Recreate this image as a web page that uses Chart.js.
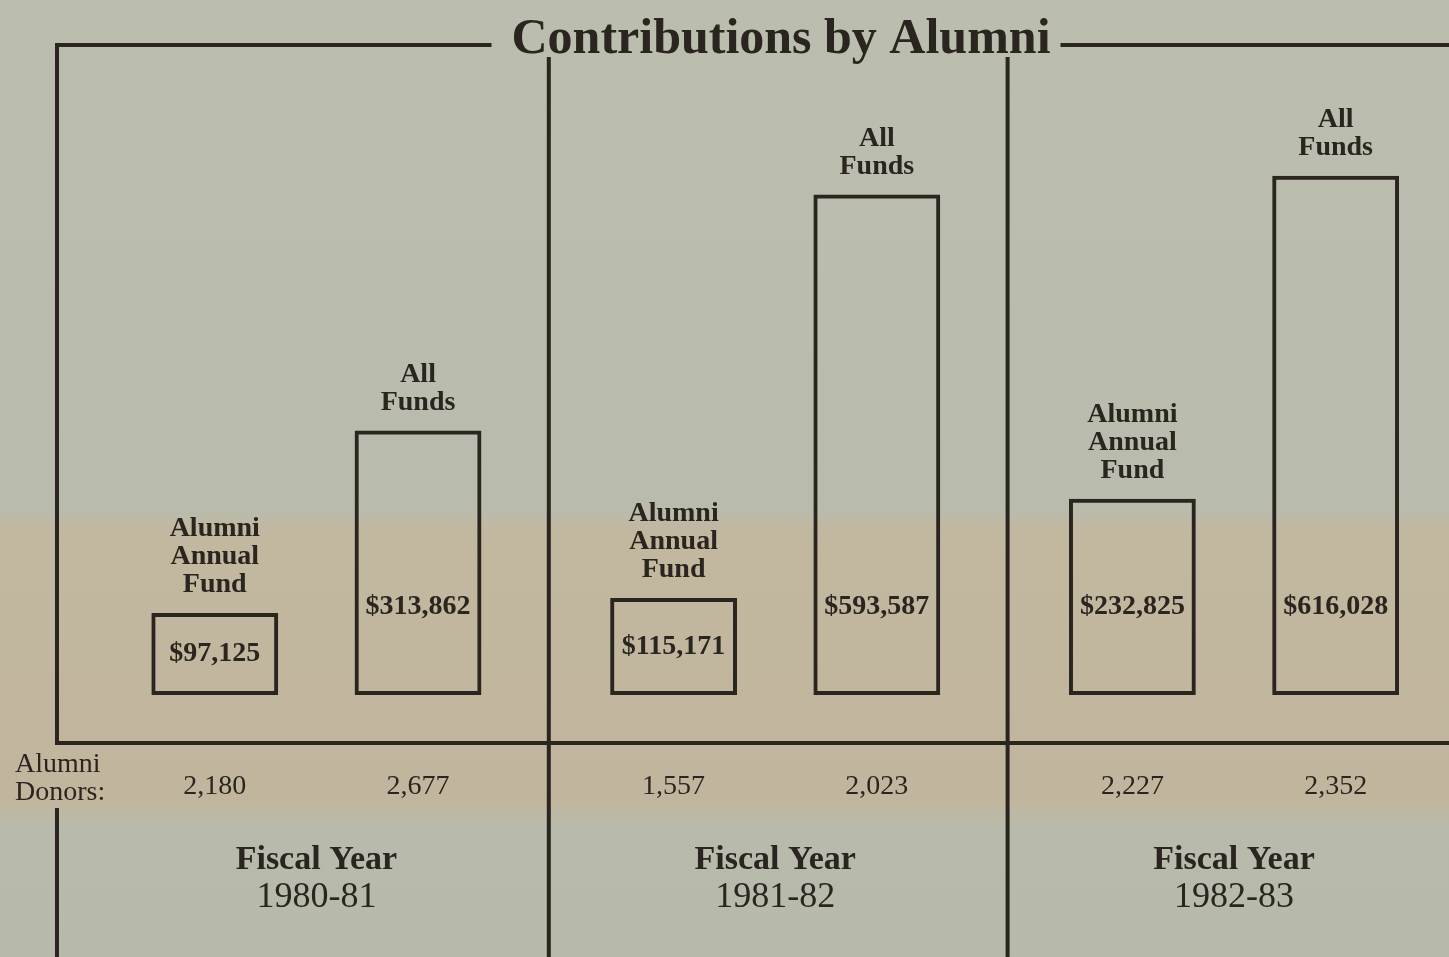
<!DOCTYPE html>
<html>
<head>
<meta charset="utf-8">
<script src="https://cdn.jsdelivr.net/npm/chart.js@4.4.1/dist/chart.umd.min.js"></script>
<style>
html,body{margin:0;padding:0;overflow:hidden;background:#b9bcad;}
canvas{display:block;}
</style>
</head>
<body>
<canvas id="c" width="1475" height="957"></canvas>
<script>
// ---- data ----
const fiscalYears = ['1980-81', '1981-82', '1982-83'];
const seriesNames = ['Alumni Annual Fund', 'All Funds'];
const barLabels = [['Alumni', 'Annual', 'Fund'], ['All', 'Funds']];
const alumniAnnualFund = [97125, 115171, 232825];
const allFunds = [313862, 593587, 616028];
const donorsAnnualFund = [2180, 1557, 2227];
const donorsAllFunds = [2677, 2023, 2352];
const donorRowLabel = ['Alumni', 'Donors:'];
const axisWord = 'Fiscal Year';
const titleText = 'Contributions by Alumni';

const INK = '#2a251f';
const SERIF = '"Liberation Serif", "Times New Roman", serif';
const donorSeries = [donorsAnnualFund, donorsAllFunds];

const fmtMoney = v => '$' + v.toLocaleString('en-US');
const fmtInt = v => v.toLocaleString('en-US');

const decor = {
  id: 'decor',
  beforeDraw(chart) {
    const { ctx, width, height } = chart;
    const g = ctx.createLinearGradient(0, 0, 0, height);
    g.addColorStop(0, '#bbbeaf');
    g.addColorStop(505 / height, '#b9bcad');
    g.addColorStop(535 / height, '#c2b79f');
    g.addColorStop(800 / height, '#c1b69d');
    g.addColorStop(830 / height, '#b8bbac');
    g.addColorStop(1, '#b7baab');
    ctx.save();
    ctx.fillStyle = g;
    ctx.fillRect(0, 0, width, height);
    ctx.restore();
  },
  afterDatasetsDraw(chart) {
    const { ctx, chartArea: a, scales: { x }, width, height } = chart;
    const frameLeft = a.left - 30;
    const topY = 45;
    const baseY = a.bottom + 48;
    const half = (a.right - a.left) / fiscalYears.length / 2;

    ctx.save();
    ctx.strokeStyle = INK;
    ctx.lineWidth = 4;
    ctx.lineCap = 'butt';

    // title gap in top rule
    const tb = chart.titleBlock;
    const tcx = (tb.left + tb.right) / 2;
    ctx.font = 'bold 50px ' + SERIF;
    const tw = ctx.measureText(titleText).width;

    ctx.beginPath();
    ctx.moveTo(frameLeft - 2, topY);
    ctx.lineTo(tcx - tw / 2 - 20, topY);
    ctx.moveTo(tcx + tw / 2 + 10, topY);
    ctx.lineTo(width, topY);
    // left frame (broken by the donor label)
    ctx.moveTo(frameLeft, topY - 2);
    ctx.lineTo(frameLeft, baseY + 2);
    ctx.moveTo(frameLeft, baseY + 65);
    ctx.lineTo(frameLeft, height);
    // dividers between fiscal years (start just under the title)
    for (let i = 0; i < fiscalYears.length - 1; i++) {
      const dx = x.getPixelForValue(i) + half + 3;
      ctx.moveTo(dx, topY + 12);
      ctx.lineTo(dx, height);
    }
    // base rule
    ctx.moveTo(frameLeft - 2, baseY);
    ctx.lineTo(width, baseY);
    ctx.stroke();

    ctx.fillStyle = INK;
    ctx.textAlign = 'center';
    ctx.textBaseline = 'middle';

    chart.data.datasets.forEach((ds, d) => {
      const meta = chart.getDatasetMeta(d);
      meta.data.forEach((el, i) => {
        // series name above bar
        ctx.font = 'bold 28px ' + SERIF;
        const lines = barLabels[d];
        lines.forEach((ln, k) => {
          const yy = el.y - 28 - (lines.length - 1 - k) * 28;
          ctx.fillText(ln, el.x, yy);
        });
        // value inside bar
        ctx.font = 'bold 28px ' + SERIF;
        const h = el.base - el.y;
        const vy = h > 130 ? el.base - 88 : (el.y + el.base) / 2;
        ctx.fillText(fmtMoney(ds.data[i]), el.x, vy);
        // donors row
        ctx.font = '28px ' + SERIF;
        ctx.fillText(fmtInt(donorSeries[d][i]), el.x, baseY + 44);
      });
    });

    // "Alumni Donors:" row label
    ctx.textAlign = 'left';
    ctx.font = '28px ' + SERIF;
    donorRowLabel.forEach((ln, k) => ctx.fillText(ln, frameLeft - 42, baseY + 22 + k * 28));

    // "Fiscal Year" above each year tick label
    ctx.textAlign = 'center';
    ctx.font = 'bold 34px ' + SERIF;
    fiscalYears.forEach((fy, i) => ctx.fillText(axisWord, x.getPixelForValue(i), 860));
    ctx.restore();
  }
};

new Chart(document.getElementById('c'), {
  type: 'bar',
  data: {
    labels: fiscalYears,
    datasets: [
      { label: seriesNames[0], data: alumniAnnualFund },
      { label: seriesNames[1], data: allFunds }
    ].map(ds => Object.assign(ds, {
      backgroundColor: 'rgba(0,0,0,0)',
      borderColor: INK,
      borderWidth: 4,
      borderSkipped: false,
      categoryPercentage: 0.886,
      barPercentage: 0.624
    }))
  },
  options: {
    responsive: false,
    animation: false,
    layout: { padding: { left: 87, right: 0, top: 0, bottom: 0 } },
    plugins: {
      legend: { display: false },
      tooltip: { enabled: false },
      title: {
        display: true,
        text: titleText,
        color: INK,
        font: { family: SERIF, size: 50, weight: 'bold' },
        padding: { top: 10, bottom: 77 }
      }
    },
    scales: {
      x: {
        grid: { display: false, drawTicks: false },
        border: { display: false },
        ticks: { color: INK, font: { family: SERIF, size: 36 }, padding: 181 },
        afterFit(scale) { scale.height = 262; }
      },
      y: { display: false, min: 0, max: 650000 }
    }
  },
  plugins: [decor]
});
</script>
</body>
</html>
